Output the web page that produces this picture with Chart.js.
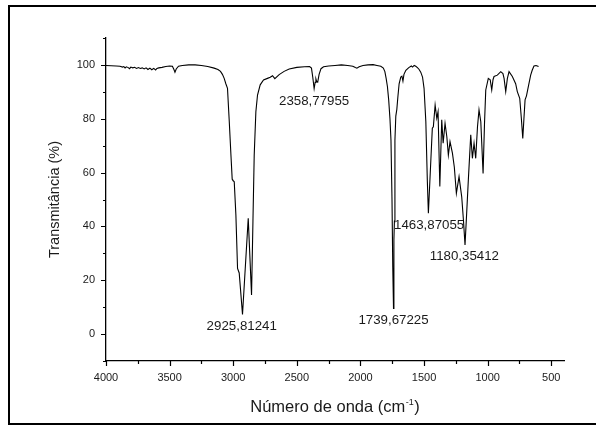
<!DOCTYPE html>
<html>
<head>
<meta charset="utf-8">
<title>Espectro IR</title>
<script src="https://cdn.jsdelivr.net/npm/chart.js@4.4.0/dist/chart.umd.min.js"></script>
<style>
  html, body { margin: 0; padding: 0; background: #fff; }
  #wrap { position: relative; width: 596px; height: 425px; overflow: hidden; }
  #frame {
    position: absolute; left: 8px; top: 5px; width: 600px; height: 416px;
    border-left: 2px solid #000; border-top: 2px solid #000; border-bottom: 2px solid #000;
  }
  #chart { position: absolute; left: 0; top: 0; }
</style>
</head>
<body>
<div id="wrap">
  <div id="frame"></div>
  <canvas id="chart" width="596" height="425"></canvas>
</div>
<script>
// spectrum (wavenumber in cm-1, transmittance in %)
const wavenumber = [
  4000, 3960, 3920, 3890, 3870, 3860, 3850, 3840, 3825, 3815, 3805, 3790, 3775, 3760, 3745,
  3730, 3715, 3700, 3685, 3670, 3655, 3640, 3625, 3610, 3600, 3585, 3560, 3530, 3500, 3478,
  3466, 3458, 3448, 3430, 3400, 3350, 3300, 3250, 3200, 3150, 3120, 3100, 3085, 3071, 3058,
  3045, 3038, 3031, 3018, 3008, 3004, 2992, 2979, 2966, 2953, 2927, 2882, 2856, 2845, 2835,
  2822, 2809, 2788, 2762, 2731, 2709, 2691, 2673, 2639, 2600, 2560, 2500, 2440, 2400, 2385,
  2375, 2364, 2356, 2350, 2344, 2336, 2325, 2310, 2290, 2250, 2200, 2150, 2100, 2060, 2040,
  2028, 2010, 1980, 1940, 1900, 1870, 1840, 1820, 1808, 1798, 1788, 1778, 1768, 1760, 1752,
  1746, 1740, 1737, 1733, 1729, 1722, 1714, 1706, 1696, 1683, 1674, 1666, 1658, 1643, 1620,
  1600, 1590, 1578, 1565, 1552, 1540, 1526, 1512, 1500, 1486, 1474, 1466, 1435, 1427, 1413,
  1400, 1390, 1376, 1361, 1350, 1335, 1321, 1309, 1296, 1277, 1262, 1246, 1225, 1204, 1190,
  1178, 1165, 1152, 1133, 1120, 1107, 1094, 1080, 1068, 1054, 1036, 1025, 1015, 995, 980,
  968, 958, 950, 924, 897, 880, 871, 858, 845, 832, 806, 780, 767, 748, 735,
  724, 715, 706, 695, 680, 662, 650, 636, 620, 600
];
const transmittance = [
  99.8, 99.7, 99.6, 99.5, 99.2, 99.4, 98.9, 99.3, 99.0, 98.6, 99.2, 98.9, 99.1, 98.7, 99.0,
  98.7, 98.9, 98.5, 98.9, 98.3, 98.8, 98.2, 98.7, 98.1, 98.7, 98.9, 99.1, 99.4, 99.6, 99.5,
  98.3, 97.3, 98.5, 99.5, 99.8, 100.0, 100.0, 99.8, 99.4, 98.8, 98.3, 97.6, 96.5, 95.0, 93.0,
  91.3, 85.0, 78.9, 66.5, 57.5, 57.2, 56.6, 44.2, 24.4, 22.7, 7.3, 43.0, 14.5, 41.8, 66.5,
  82.6, 88.8, 92.6, 94.4, 95.0, 95.4, 96.0, 94.9, 96.4, 97.6, 98.5, 99.1, 99.3, 99.4, 98.8,
  95.5, 91.2, 93.5, 94.8, 93.8, 93.6, 96.5, 98.6, 99.3, 99.6, 99.8, 100.0, 99.8, 99.5, 99.0,
  98.8, 99.3, 99.8, 100.0, 100.1, 99.8, 99.5, 98.8, 97.5, 95.0, 92.0, 87.0, 80.0, 72.0, 50.0,
  25.0, 9.5, 35.0, 42.0, 72.0, 81.0, 83.5, 88.0, 93.0, 95.5, 95.8, 94.0, 96.5, 98.0, 99.0,
  99.6, 99.2, 99.8, 99.5, 99.0, 98.4, 97.3, 95.5, 91.3, 78.9, 56.6, 44.9, 76.5, 77.0, 85.1,
  80.2, 82.6, 54.8, 79.6, 70.9, 78.3, 73.3, 66.5, 71.5, 67.2, 62.0, 52.3, 58.5, 51.0, 42.0,
  33.1, 45.0, 57.2, 74.0, 65.3, 70.9, 65.3, 77.0, 83.3, 78.9, 59.7, 78.0, 90.7, 95.0, 94.5,
  90.7, 94.5, 95.7, 96.2, 97.5, 96.8, 95.0, 90.1, 95.0, 97.5, 95.7, 93.0, 90.1, 87.6, 80.0,
  72.7, 80.0, 87.0, 88.5, 92.0, 96.2, 98.0, 99.6, 99.8, 99.4
];

// peak labels and where their text sits (data units)
const peakTexts = ['2925,81241', '2358,77955', '1739,67225', '1463,87055', '1180,35412'];
const peakTextX = [2933, 2364, 1740, 1460, 1183];
const peakTextY = [3.0, 86.4, 5.2, 40.5, 28.7];

// axes
const xMajorTicks = [4000, 3500, 3000, 2500, 2000, 1500, 1000, 500];
const xMinorTicks = [3750, 3250, 2750, 2250, 1750, 1250, 750];
const yMajorTicks = [0, 20, 40, 60, 80, 100];
const yMinorTicks = [-10, 10, 30, 50, 70, 90, 110];

const FONT = 'Arial, "Liberation Sans", Helvetica, sans-serif';
Chart.defaults.font.family = FONT;
Chart.defaults.color = '#1a1a1a';

// tick marks, peak labels and the x title with its superscript
const extras = {
  id: 'extras',
  afterDraw(chart) {
    const { ctx, chartArea, scales: { x, y } } = chart;
    ctx.save();
    ctx.strokeStyle = '#000';
    ctx.lineWidth = 1.2;
    ctx.beginPath();
    const xTick = (v, len) => {
      const px = Math.round(x.getPixelForValue(v)) + 0.5;
      ctx.moveTo(px, chartArea.bottom);
      ctx.lineTo(px, chartArea.bottom + len);
    };
    const yTick = (v, len) => {
      const py = Math.round(y.getPixelForValue(v)) + 0.5;
      ctx.moveTo(chartArea.left - len, py);
      ctx.lineTo(chartArea.left, py);
    };
    xMajorTicks.forEach(v => xTick(v, 5));
    xMinorTicks.forEach(v => xTick(v, 3));
    yMajorTicks.forEach(v => yTick(v, 5));
    yMinorTicks.forEach(v => yTick(v, 3));
    ctx.stroke();

    // peak labels
    ctx.fillStyle = '#1a1a1a';
    ctx.font = '13.3px ' + FONT;
    ctx.textAlign = 'center';
    ctx.textBaseline = 'middle';
    peakTexts.forEach((t, i) => {
      ctx.fillText(t, x.getPixelForValue(peakTextX[i]), y.getPixelForValue(peakTextY[i]));
    });

    // x title: Número de onda (cm^-1)
    const mainFont = '16.5px ' + FONT;
    const supFont = '9px ' + FONT;
    const head = 'Número de onda (cm', sup = '-1', tail = ')';
    ctx.font = mainFont;
    const wHead = ctx.measureText(head).width;
    const wTail = ctx.measureText(tail).width;
    ctx.font = supFont;
    const wSup = ctx.measureText(sup).width + 1;
    const total = wHead + wSup + wTail;
    let cx = (chartArea.left + chartArea.right) / 2 - total / 2;
    const base = 412;
    ctx.textAlign = 'left';
    ctx.textBaseline = 'alphabetic';
    ctx.font = mainFont;
    ctx.fillText(head, cx, base);
    cx += wHead;
    ctx.font = supFont;
    ctx.fillText(sup, cx + 0.5, base - 7);
    cx += wSup;
    ctx.font = mainFont;
    ctx.fillText(tail, cx, base);
    ctx.restore();
  }
};

const points = wavenumber.map((w, i) => ({ x: w, y: transmittance[i] }));

new Chart(document.getElementById('chart'), {
  type: 'line',
  data: {
    datasets: [{
      data: points,
      borderColor: '#000',
      borderWidth: 1.1,
      pointRadius: 0,
      tension: 0,
      fill: false
    }]
  },
  options: {
    responsive: false,
    animation: false,
    events: [],
    layout: { padding: { top: 38, right: 32, left: 0, bottom: 0 } },
    plugins: { legend: { display: false }, tooltip: { enabled: false } },
    scales: {
      x: {
        type: 'linear',
        reverse: true,
        min: 400,
        max: 4000,
        afterBuildTicks: s => { s.ticks = xMajorTicks.map(v => ({ value: v })); },
        afterFit: s => { s.height = 64; },
        ticks: {
          callback: v => String(v),
          font: { size: 11 },
          color: '#1a1a1a',
          padding: 10,
          maxRotation: 0,
          autoSkip: false
        },
        grid: { display: false, drawTicks: false },
        border: { display: true, color: '#000', width: 1.3 },
        title: { display: false }
      },
      y: {
        min: -10,
        max: 110,
        afterBuildTicks: s => { s.ticks = yMajorTicks.map(v => ({ value: v })); },
        afterFit: s => { s.width = 106; },
        ticks: {
          callback: v => String(v),
          font: { size: 11 },
          color: '#1a1a1a',
          padding: 11
        },
        grid: { display: false, drawTicks: false },
        border: { display: true, color: '#000', width: 1.3 },
        title: {
          display: true,
          text: 'Transmitância (%)',
          font: { size: 14.5 },
          color: '#1a1a1a',
          padding: { top: 46, bottom: 0 }
        }
      }
    }
  },
  plugins: [extras]
});
</script>
</body>
</html>
